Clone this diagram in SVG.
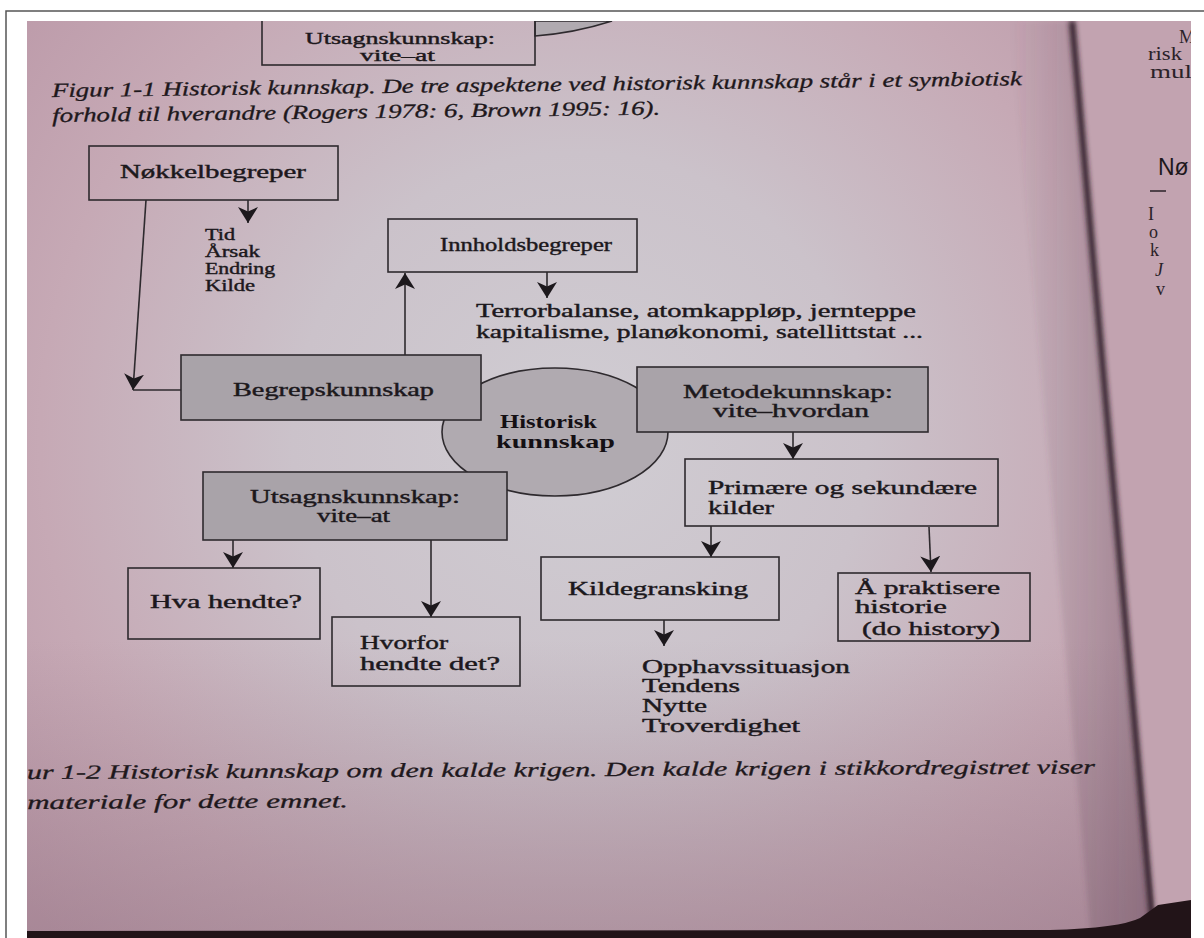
<svg xmlns="http://www.w3.org/2000/svg" width="1204" height="938" viewBox="0 0 1204 938">
<defs>
<style>
.bx{fill:none;stroke:#2e2a2e;stroke-width:1.6}
.sh{fill:#a9a3a9;stroke:#2e2a2e;stroke-width:1.6}
.t{font-family:"Liberation Serif","Times New Roman",serif;font-size:18px;fill:#1c181c;stroke:#1c181c;stroke-width:0.4}
.s{font-size:16px}
.tb{font-family:"Liberation Serif","Times New Roman",serif;font-size:19px;font-weight:bold;fill:#141014}
.cap{font-family:"Liberation Serif","Times New Roman",serif;font-size:20px;font-style:italic;fill:#1e181c;stroke:#1e181c;stroke-width:0.3}
.rp{font-family:"Liberation Serif","Times New Roman",serif;font-size:18px;fill:#2a2228}
.ln{fill:none;stroke:#2e2a2e;stroke-width:1.6}
</style>
<marker id="ah" markerUnits="userSpaceOnUse" markerWidth="22" markerHeight="22" refX="16" refY="10" orient="auto">
<path d="M0,0 L16,10 L0,20 L4.5,10 Z" fill="#1c181c"/>
</marker>
<radialGradient id="pg" cx="580" cy="440" r="720" gradientUnits="userSpaceOnUse">
<stop offset="0" stop-color="#d0cdd3"/>
<stop offset="0.4" stop-color="#cbc2ca"/>
<stop offset="0.75" stop-color="#c6a9b5"/>
<stop offset="1" stop-color="#bc9aa9"/>
</radialGradient>
<linearGradient id="bot" x1="0" y1="0" x2="0" y2="1">
<stop offset="0" stop-color="#8a6c7c" stop-opacity="0"/>
<stop offset="1" stop-color="#8a6c7c" stop-opacity="0.4"/>
</linearGradient>
<linearGradient id="gs" x1="0" y1="0" x2="1" y2="0">
<stop offset="0" stop-color="#5a4050" stop-opacity="0"/>
<stop offset="1" stop-color="#5a4050" stop-opacity="0.35"/>
</linearGradient>
<clipPath id="ph"><rect x="27" y="21" width="1164" height="917"/></clipPath>
<filter id="bl" x="-50%" y="-5%" width="200%" height="110%"><feGaussianBlur stdDeviation="2.5"/></filter>
</defs>
<rect width="1204" height="938" fill="#ffffff"/>
<path d="M6,938 L6,11 L1204,11" fill="none" stroke="#555" stroke-width="1.5"/>
<g clip-path="url(#ph)">
<rect x="27" y="21" width="1164" height="917" fill="url(#pg)"/>
<rect x="27" y="640" width="1164" height="298" fill="url(#bot)"/>
<path d="M1010,21 L1072,21 L1150,931 L1090,931 Z" fill="url(#gs)" filter="url(#bl)"/>
<path d="M1076,21 L1191,21 L1191,931 L1156,931 Z" fill="#c2a3b0"/>
<path d="M1072,21 L1153,931" stroke="#2e1e28" stroke-width="6" filter="url(#bl)"/>
<path d="M27,931 L1050,930 Q1120,928 1140,918 L1158,905 L1191,900 L1191,938 L27,938 Z" fill="#221418"/>
<text class="rp" x="1179" y="43">M</text>
<text class="rp" x="1148" y="60" textLength="34" lengthAdjust="spacingAndGlyphs">risk</text>
<text class="rp" x="1150" y="78" textLength="42" lengthAdjust="spacingAndGlyphs">mul</text>
<text x="1158" y="175" style="font-family:'Liberation Sans',Arial,sans-serif;font-size:23px;fill:#1e181c">Nø</text>
<path d="M1150,191 L1166,191" stroke="#2a2228" stroke-width="1.5"/>
<text class="rp" x="1148" y="220">I</text>
<text class="rp" x="1149" y="238">o</text>
<text class="rp" x="1150" y="256">k</text>
<text class="rp" x="1155" y="276" font-size="13" font-style="italic">J</text>
<text class="rp" x="1156" y="295" font-size="13">v</text>

<g id="top-box">
<path d="M535,21 L535,36 Q575,33 612,21 Z" fill="#b0aab0" stroke="#2e2a2e" stroke-width="1.6"/>
<rect class="bx" x="262" y="10" width="273" height="55"/>
<text class="t s" x="305" y="44" textLength="190" lengthAdjust="spacingAndGlyphs">Utsagnskunnskap:</text>
<text class="t s" x="360" y="61" textLength="75" lengthAdjust="spacingAndGlyphs">vite–at</text>
</g>
<g id="caption1" transform="rotate(-0.7 52 96)">
<text class="cap" x="52" y="97" textLength="970" lengthAdjust="spacingAndGlyphs">Figur 1-1  Historisk kunnskap. De tre aspektene ved historisk kunnskap står i et symbiotisk</text>
<text class="cap" x="52" y="122" textLength="608" lengthAdjust="spacingAndGlyphs">forhold til hverandre (Rogers 1978: 6, Brown 1995: 16).</text>
</g>

<g id="connectors">
<path class="ln" d="M146,200 L133,390" marker-end="url(#ah)"/>
<path class="ln" d="M133,390 L182,390"/>
<path class="ln" d="M248,200 L248,223" marker-end="url(#ah)"/>
<path class="ln" d="M405,355 L405,273" marker-end="url(#ah)"/>
<path class="ln" d="M547,272 L547,298" marker-end="url(#ah)"/>
<path class="ln" d="M793,432 L793,459" marker-end="url(#ah)"/>
<path class="ln" d="M711,526 L711,557" marker-end="url(#ah)"/>
<path class="ln" d="M929,527 L931,572" marker-end="url(#ah)"/>
<path class="ln" d="M664,620 L664,646" marker-end="url(#ah)"/>
<path class="ln" d="M233,540 L233,568" marker-end="url(#ah)"/>
<path class="ln" d="M431,540 L431,617" marker-end="url(#ah)"/>
</g>

<g id="historisk">
<ellipse cx="555" cy="432" rx="113" ry="64" fill="#b0aab0" stroke="#2e2a2e" stroke-width="1.6"/>
<text class="tb" x="500" y="428" textLength="97" lengthAdjust="spacingAndGlyphs">Historisk</text>
<text class="tb" x="496" y="448" textLength="119" lengthAdjust="spacingAndGlyphs">kunnskap</text>
</g>
<g id="nokkel">
<rect class="bx" x="89" y="146" width="249" height="54"/>
<text class="t" x="120" y="178" textLength="186" lengthAdjust="spacingAndGlyphs">Nøkkelbegreper</text>
</g>
<g id="nokkel-list">
<text class="t s" x="205" y="240" textLength="30" lengthAdjust="spacingAndGlyphs">Tid</text>
<text class="t s" x="205" y="257" textLength="55" lengthAdjust="spacingAndGlyphs">Årsak</text>
<text class="t s" x="205" y="274" textLength="70" lengthAdjust="spacingAndGlyphs">Endring</text>
<text class="t s" x="205" y="291" textLength="50" lengthAdjust="spacingAndGlyphs">Kilde</text>
</g>
<g id="innhold">
<rect class="bx" x="388" y="219" width="249" height="53"/>
<text class="t" x="440" y="251" textLength="172" lengthAdjust="spacingAndGlyphs">Innholdsbegreper</text>
</g>
<g id="innhold-list">
<text class="t" x="476" y="317" textLength="440" lengthAdjust="spacingAndGlyphs">Terrorbalanse, atomkappløp, jernteppe</text>
<text class="t" x="476" y="338" textLength="447" lengthAdjust="spacingAndGlyphs">kapitalisme, planøkonomi, satellittstat ...</text>
</g>
<g id="begrep">
<rect class="sh" x="181" y="355" width="300" height="65"/>
<text class="t" x="233" y="396" textLength="201" lengthAdjust="spacingAndGlyphs">Begrepskunnskap</text>
</g>
<g id="metode">
<rect class="sh" x="637" y="367" width="291" height="65"/>
<text class="t" x="683" y="398" textLength="210" lengthAdjust="spacingAndGlyphs">Metodekunnskap:</text>
<text class="t" x="713" y="417" textLength="156" lengthAdjust="spacingAndGlyphs">vite–hvordan</text>
</g>
<g id="utsagn">
<rect class="sh" x="203" y="472" width="304" height="68"/>
<text class="t" x="250" y="503" textLength="210" lengthAdjust="spacingAndGlyphs">Utsagnskunnskap:</text>
<text class="t" x="317" y="522" textLength="73" lengthAdjust="spacingAndGlyphs">vite–at</text>
</g>
<g id="primaere">
<rect class="bx" x="685" y="459" width="313" height="67"/>
<text class="t" x="708" y="494" textLength="269" lengthAdjust="spacingAndGlyphs">Primære og sekundære</text>
<text class="t" x="708" y="514" textLength="66" lengthAdjust="spacingAndGlyphs">kilder</text>
</g>
<g id="kildegransking">
<rect class="bx" x="541" y="557" width="238" height="63"/>
<text class="t" x="568" y="595" textLength="180" lengthAdjust="spacingAndGlyphs">Kildegransking</text>
</g>
<g id="kilde-list">
<text class="t" x="642" y="673" font-size="17" textLength="208" lengthAdjust="spacingAndGlyphs">Opphavssituasjon</text>
<text class="t" x="642" y="692" font-size="17" textLength="98" lengthAdjust="spacingAndGlyphs">Tendens</text>
<text class="t" x="642" y="712" font-size="17" textLength="65" lengthAdjust="spacingAndGlyphs">Nytte</text>
<text class="t" x="642" y="732" font-size="17" textLength="158" lengthAdjust="spacingAndGlyphs">Troverdighet</text>
</g>
<g id="praktisere">
<rect class="bx" x="838" y="573" width="192" height="68"/>
<text class="t" x="855" y="594" textLength="145" lengthAdjust="spacingAndGlyphs">Å praktisere</text>
<text class="t" x="855" y="613" textLength="92" lengthAdjust="spacingAndGlyphs">historie</text>
<text class="t" x="862" y="635" textLength="138" lengthAdjust="spacingAndGlyphs">(do history)</text>
</g>
<g id="hva">
<rect class="bx" x="128" y="568" width="192" height="71"/>
<text class="t" x="150" y="608" textLength="152" lengthAdjust="spacingAndGlyphs">Hva hendte?</text>
</g>
<g id="hvorfor">
<rect class="bx" x="332" y="617" width="188" height="69"/>
<text class="t" x="360" y="649" textLength="88" lengthAdjust="spacingAndGlyphs">Hvorfor</text>
<text class="t" x="360" y="670" textLength="140" lengthAdjust="spacingAndGlyphs">hendte det?</text>
</g>
<g id="caption2" transform="rotate(-0.3 27 779)">
<text class="cap" x="27" y="779" textLength="1068" lengthAdjust="spacingAndGlyphs">ur 1-2  Historisk kunnskap om den kalde krigen. Den kalde krigen i stikkordregistret viser</text>
<text class="cap" x="27" y="809" textLength="321" lengthAdjust="spacingAndGlyphs">materiale for dette emnet.</text>
</g>
</g>
</svg>
